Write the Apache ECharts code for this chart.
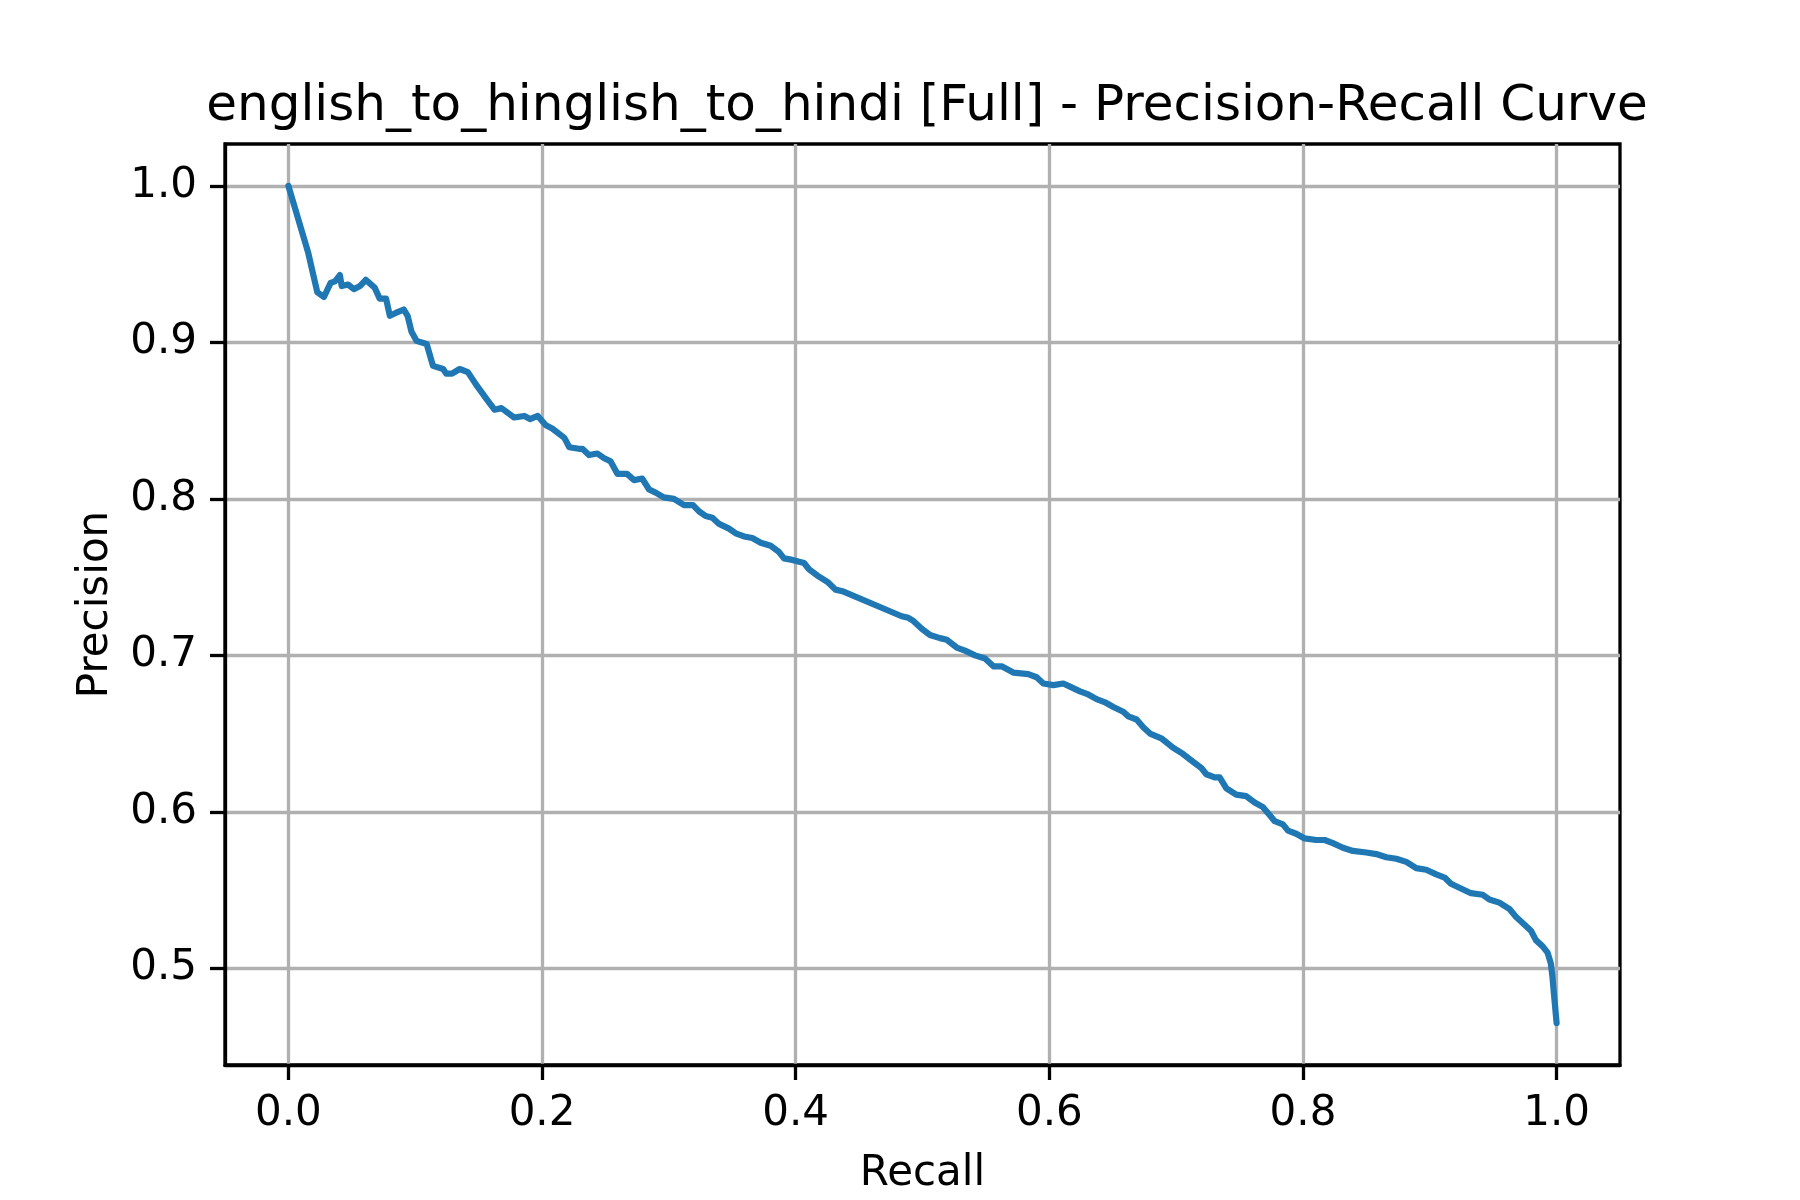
<!DOCTYPE html>
<html>
<head>
<meta charset="utf-8">
<title>Precision-Recall Curve</title>
<script src="https://cdn.jsdelivr.net/npm/echarts@6/dist/echarts.min.js"></script>
<style>
  html, body { margin: 0; padding: 0; background: #fff; }
  #chart { width: 1800px; height: 1200px; }
</style>
</head>
<body>
<div id="chart"></div>
<script>
// values
const recall = [
  0, 0.0157, 0.0228, 0.028, 0.0333, 0.0367, 0.0406, 0.042, 0.047, 0.0516,
  0.0564, 0.061, 0.068, 0.072, 0.077, 0.080, 0.085, 0.091, 0.094, 0.097,
  0.101, 0.109, 0.114, 0.122, 0.1245, 0.129, 0.135, 0.1415, 0.148, 0.157,
  0.1625, 0.168, 0.178, 0.186, 0.1905, 0.1966, 0.203, 0.208, 0.2176, 0.2215,
  0.229, 0.2318, 0.237, 0.2436, 0.249, 0.254, 0.2594, 0.267, 0.2726, 0.279,
  0.2844, 0.2896, 0.296, 0.304, 0.312, 0.319, 0.3238, 0.329, 0.3343, 0.3396,
  0.3474, 0.3527, 0.3593, 0.3658, 0.3724, 0.3803, 0.3869, 0.3908, 0.3974, 0.4066,
  0.4105, 0.4171, 0.425, 0.4315, 0.4368, 0.4836, 0.4888, 0.4928, 0.4994, 0.5059,
  0.5138, 0.5191, 0.527, 0.5335, 0.5414, 0.5493, 0.5559, 0.5624, 0.5716, 0.5834,
  0.59, 0.5953, 0.6032, 0.611, 0.6163, 0.6242, 0.6307, 0.6373, 0.6439, 0.6505,
  0.6583, 0.6623, 0.6688, 0.6741, 0.6794, 0.6883, 0.6975, 0.7054, 0.7133, 0.7199,
  0.7238, 0.7304, 0.7343, 0.7396, 0.7474, 0.7553, 0.7619, 0.7685, 0.7737, 0.7777,
  0.7842, 0.7882, 0.7947, 0.8013, 0.8105, 0.8171, 0.8236, 0.8315, 0.8394, 0.8499,
  0.8578, 0.8657, 0.8736, 0.8815, 0.8893, 0.8972, 0.9051, 0.9117, 0.9167, 0.9246,
  0.9325, 0.9417, 0.947, 0.9548, 0.9627, 0.9679, 0.9745, 0.9798, 0.9837, 0.989,
  0.9929, 0.9955, 0.9968, 0.9982, 1.0
];
const precision = [
  1.0, 0.957, 0.932, 0.929, 0.938, 0.939, 0.943, 0.936, 0.937, 0.934,
  0.936, 0.940, 0.935, 0.928, 0.928, 0.917, 0.919, 0.921, 0.917, 0.907,
  0.901, 0.899, 0.885, 0.883, 0.880, 0.880, 0.883, 0.881, 0.873, 0.863,
  0.857, 0.858, 0.852, 0.853, 0.851, 0.853, 0.847, 0.845, 0.839, 0.833,
  0.832, 0.832, 0.828, 0.829, 0.826, 0.824, 0.816, 0.816, 0.812, 0.813,
  0.806, 0.804, 0.801, 0.800, 0.796, 0.796, 0.792, 0.789, 0.788, 0.784,
  0.781, 0.778, 0.776, 0.775, 0.772, 0.770, 0.766, 0.762, 0.761, 0.759,
  0.755, 0.751, 0.747, 0.742, 0.741, 0.725, 0.724, 0.722, 0.717, 0.713,
  0.711, 0.710, 0.705, 0.703, 0.700, 0.698, 0.693, 0.693, 0.689, 0.688,
  0.686, 0.682, 0.681, 0.682, 0.680, 0.677, 0.675, 0.672, 0.670, 0.667,
  0.664, 0.661, 0.659, 0.654, 0.650, 0.647, 0.641, 0.637, 0.632, 0.628,
  0.624, 0.622, 0.622, 0.615, 0.611, 0.610, 0.606, 0.603, 0.598, 0.594,
  0.592, 0.588, 0.586, 0.583, 0.582, 0.582, 0.580, 0.577, 0.575, 0.574,
  0.573, 0.571, 0.570, 0.568, 0.564, 0.563, 0.560, 0.558, 0.554, 0.551,
  0.548, 0.547, 0.544, 0.542, 0.538, 0.533, 0.528, 0.524, 0.518, 0.514,
  0.510, 0.503, 0.494, 0.481, 0.465
];
const xTicks = [0, 0.2, 0.4, 0.6, 0.8, 1.0];
const yTicks = [0.5, 0.6, 0.7, 0.8, 0.9, 1.0];

const chartTitle = 'english_to_hinglish_to_hindi [Full] - Precision-Recall Curve';

let points = [];
for (let i = 0; i < recall.length; i++) {
  points.push([recall[i], precision[i]]);
}

const font = 'DejaVu Sans';
const myChart = echarts.init(document.getElementById('chart'), null, { renderer: 'canvas' });

const option = {
  backgroundColor: '#ffffff',
  animation: false,
  title: {
    text: chartTitle,
    left: 922,
    top: 77,
    textAlign: 'center',
    textStyle: { fontFamily: font, fontSize: 50, fontWeight: 'normal', color: '#000', lineHeight: 50 }
  },
  grid: {
    left: 225, right: 180, top: 144, bottom: 132,
    show: true,
    borderColor: '#000',
    borderWidth: 3.3,
    backgroundColor: '#fff'
  },
  xAxis: {
    type: 'value',
    min: -0.05,
    max: 1.05,
    name: 'Recall',
    nameLocation: 'middle',
    nameGap: 88,
    nameTextStyle: { fontFamily: font, fontSize: 42, color: '#000' },
    axisLine: { show: true, onZero: false, lineStyle: { color: '#000', width: 3.3 } },
    axisTick: { show: true, inside: false, length: 15, lineStyle: { color: '#000', width: 3.3 }, customValues: xTicks },
    axisLabel: {
      margin: 28, fontFamily: font, fontSize: 42, color: '#000',
      customValues: xTicks,
      formatter: function (v) { return Number(v).toFixed(1); }
    },
    splitLine: { show: true, lineStyle: { color: '#b0b0b0', width: 3.3 } }
  },
  yAxis: {
    type: 'value',
    min: 0.4382,
    max: 1.0268,
    name: 'Precision',
    nameLocation: 'middle',
    nameGap: 108,
    nameRotate: 90,
    nameTextStyle: { fontFamily: font, fontSize: 42, color: '#000' },
    axisLine: { show: true, onZero: false, lineStyle: { color: '#000', width: 3.3 } },
    axisTick: { show: true, inside: false, length: 15, lineStyle: { color: '#000', width: 3.3 }, customValues: yTicks },
    axisLabel: {
      margin: 28, fontFamily: font, fontSize: 42, color: '#000',
      customValues: yTicks,
      formatter: function (v) { return Number(v).toFixed(1); }
    },
    splitLine: { show: true, lineStyle: { color: '#b0b0b0', width: 3.3 } }
  },
  series: [
    {
      type: 'line',
      data: points,
      showSymbol: false,
      symbol: 'none',
      lineStyle: { color: '#1f77b4', width: 6.2, join: 'round', cap: 'round' },
      z: 3
    }
  ]
};

myChart.setOption(option);
</script>
</body>
</html>
